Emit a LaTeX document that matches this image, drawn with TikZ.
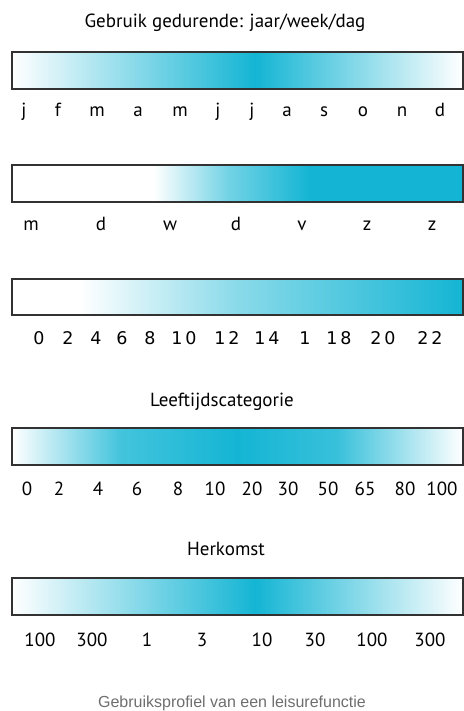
\documentclass[tikz,border=0pt]{standalone}
\usepackage{fontspec}
\setmainfont{PT Sans}
\newfontfamily\hourfont[LetterSpace=16]{DejaVu Sans}
\newfontfamily\capfont{Liberation Sans}

\definecolor{barcyan}{RGB}{20,181,212}
\definecolor{barline}{RGB}{50,50,50}
\definecolor{capgray}{RGB}{110,110,110}

% horizontal fills, path spans 25bp..75bp
\pgfdeclarehorizontalshading{yearshade}{100bp}{color(0bp)=(white); color(25bp)=(white);
  color(52bp)=(barcyan); color(75bp)=(white); color(100bp)=(white)}
\pgfdeclarehorizontalshading{weekshade}{100bp}{color(0bp)=(white); color(40.7bp)=(white);
  color(49bp)=(barcyan!60); color(58bp)=(barcyan); color(100bp)=(barcyan)}
\pgfdeclarehorizontalshading{dayshade}{100bp}{color(0bp)=(white); color(32.5bp)=(white);
  color(50bp)=(barcyan!50); color(75bp)=(barcyan); color(100bp)=(barcyan)}
\pgfdeclarehorizontalshading{ageshade}{100bp}{color(0bp)=(white); color(25bp)=(white);
  color(37bp)=(barcyan!80); color(50bp)=(barcyan); color(61bp)=(barcyan!85); color(75bp)=(white); color(100bp)=(white)}

\begin{document}
\begin{tikzpicture}[x=1pt, y=-1pt,
    font=\fontsize{19}{22}\selectfont,
    bar/.style={draw=barline, line width=2pt, anchor=north west, inner sep=0pt,
                minimum width=450.5pt, minimum height=36.8pt},
    head/.style={anchor=base},
    tick/.style={anchor=base, inner sep=0pt},
  ]
  \useasboundingbox (0,0) rectangle (463,711);

  % jaar
  \node[head] (yeartitle) at (225,28) {Gebruik gedurende: jaar/week/dag};
  \node[bar, shade, shading=yearshade] (yearbar) at (11.2,51) {};
  \foreach \x/\t [count=\i] in {24/j, 58/f, 97/m, 138/a, 180/m, 218/j, 252/j,
      287/a, 324/s, 363/o, 402/n, 440/d}
    \node[tick] (month\i) at (\x,117) {\t};

  % week
  \node[bar, shade, shading=weekshade] (weekbar) at (11.2,164.2) {};
  \foreach \x/\t [count=\i] in {31/m, 101/d, 170/w, 236/d, 302/v, 367/z, 432/z}
    \node[tick] (weekday\i) at (\x,230) {\t};

  % dag
  \node[bar, shade, shading=dayshade] (daybar) at (11.2,277.6) {};
  \foreach \x/\t [count=\i] in {39/0, 68/2, 96/4, 122/6, 150/8, 184/10, 227/12,
      267/14, 305/1, 339/18, 383/20, 430/22}
    \node[tick, font=\hourfont\fontsize{17.5}{20}\selectfont] (hour\i) at (\x,344) {\t};

  % leeftijd
  \node[head] (agetitle) at (222,406.5) {Leeftijdscategorie};
  \node[bar, shade, shading=ageshade] (agebar) at (11.2,427.2) {};
  \foreach \x/\t [count=\i] in {27/0, 59/2, 98/4, 137/6, 178/8, 215/10, 252/20,
      288/30, 328/50, 365/65, 405/80, 442/100}
    \node[tick] (age\i) at (\x,495) {\t};

  % herkomst
  \node[head] (origintitle) at (226,555) {Herkomst};
  \node[bar, shade, shading=yearshade] (originbar) at (11.2,577.4) {};
  \foreach \x/\t [count=\i] in {40/100, 92/300, 147/1, 202/3, 262/10, 315/30,
      372/100, 430/300}
    \node[tick] (origin\i) at (\x,646.5) {\t};

  \node[head, text=capgray, font=\capfont\fontsize{16}{19}\selectfont] (caption)
    at (232,707.5) {Gebruiksprofiel van een leisurefunctie};
\end{tikzpicture}
\end{document}
